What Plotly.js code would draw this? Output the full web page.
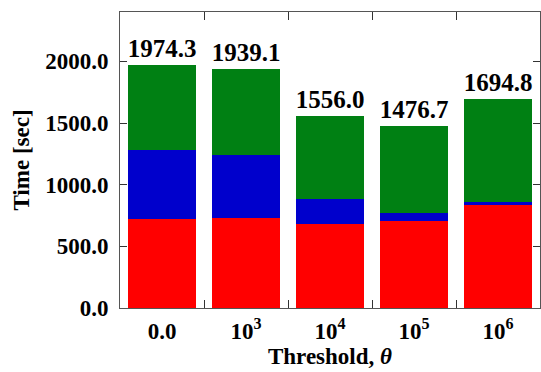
<!DOCTYPE html>
<html>
<head>
<meta charset="utf-8">
<script src="https://cdn.plot.ly/plotly-3.0.1.min.js"></script>
<style>html,body{margin:0;padding:0;background:#fff;}#chart{width:541px;height:372px;}</style>
</head>
<body>
<div id="chart"></div>
<script>
var categories = ["0.0", "1e3", "1e4", "1e5", "1e6"];
var tickLabels = ["0.0", "10<sup>3</sup>", "10<sup>4</sup>", "10<sup>5</sup>", "10<sup>6</sup>"];
var totals = [1974.3, 1939.1, 1556.0, 1476.7, 1694.8];
var redVals = [722, 727, 684, 708, 832];
var blueVals = [562, 511, 202, 62, 24];
var greenVals = totals.map(function (t, i) { return +(t - redVals[i] - blueVals[i]).toFixed(1); });

var serif = "Liberation Serif";
var f = {family: serif, size: 23, color: "#000", weight: 700};
var fLabel = {family: serif, size: 25, color: "#000", weight: 700};

var traces = [
  {type: "bar", x: categories, y: redVals, marker: {color: "#ff0000", line: {width: 0}}, hoverinfo: "none"},
  {type: "bar", x: categories, y: blueVals, marker: {color: "#0000cc", line: {width: 0}}, hoverinfo: "none"},
  {type: "bar", x: categories, y: greenVals, marker: {color: "#008013", line: {width: 0}}, hoverinfo: "none",
   text: totals.map(function (t) { return t.toFixed(1); }), textposition: "outside", cliponaxis: false,
   constraintext: "none", textfont: fLabel}
];

var layout = {
  width: 541, height: 372,
  margin: {l: 120, r: 1, t: 12, b: 64},
  barmode: "stack", bargap: 0.2,
  showlegend: false,
  paper_bgcolor: "#fff", plot_bgcolor: "#fff",
  font: f,
  xaxis: {
    type: "category", tickmode: "array", tickvals: categories, ticktext: tickLabels,
    tickson: "boundaries", ticks: "inside", ticklen: 8, tickcolor: "#333", tickwidth: 1,
    showline: true, linecolor: "#555", linewidth: 1, mirror: "ticks",
    showgrid: false, zeroline: false, tickfont: f, ticklabelstandoff: 2,
    title: {text: "Threshold, <i>θ</i>", font: f, standoff: 4}
  },
  yaxis: {
    range: [0, 2400], tickmode: "array", tickvals: [0, 500, 1000, 1500, 2000],
    ticktext: ["0.0", "500.0", "1000.0", "1500.0", "2000.0"],
    ticks: "inside", ticklen: 7, tickcolor: "#333", tickwidth: 1,
    showline: true, linecolor: "#555", linewidth: 1, mirror: "ticks",
    showgrid: false, zeroline: false, tickfont: f, ticklabelstandoff: 6,
    title: {text: "Time [sec]", font: f, standoff: 9}
  }
};

Plotly.newPlot("chart", traces, layout, {displayModeBar: false, staticPlot: true});
</script>
</body>
</html>
